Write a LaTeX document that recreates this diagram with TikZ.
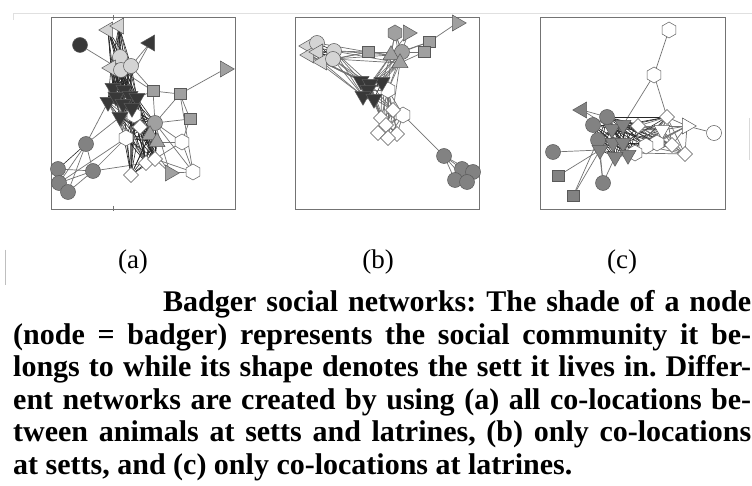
\documentclass[tikz,border=0pt]{standalone}
\usepackage{fontspec}
\setmainfont{Liberation Serif}
\usetikzlibrary{shapes.geometric}
\pgfdeclarelayer{bg}
\pgfdeclarelayer{edges}
\pgfsetlayers{bg,edges,main}
\definecolor{cDark}{HTML}{383838}
\definecolor{cMed}{HTML}{828282}
\definecolor{cGray}{HTML}{A0A0A0}
\definecolor{cLight}{HTML}{D4D4D4}
\tikzset{
  nd/.style={draw=black!65, line width=0.5pt, inner sep=0pt, outer sep=0pt},
  circ/.style={nd, circle, minimum size=15pt},
  sqr/.style={nd, rectangle, minimum size=11.5pt},
  hexa/.style={nd, regular polygon, regular polygon sides=6, shape border rotate=30, minimum size=16pt},
  dia/.style={nd, diamond, minimum size=15pt},
  tri/.style={nd, regular polygon, regular polygon sides=3, minimum size=18.5pt},
  tdn/.style={tri, shape border rotate=180},
  tlf/.style={tri, shape border rotate=90},
  trt/.style={tri, shape border rotate=270},
  tup/.style={tri},
  ed/.style={draw=black!55, line width=0.7pt},
  edd/.style={draw=black!85, line width=0.6pt},
  panel/.style={draw=black!55, line width=0.8pt},
  lbl/.style={inner sep=0pt, font=\fontsize{27}{30}\selectfont},
  capline/.style={inner sep=0pt, anchor=base west, font=\fontsize{30}{33}\selectfont\bfseries\frenchspacing},
}
\newcommand\cliq[2][ed]{\foreach \u [count=\i] in {#2}{\foreach \v [count=\j] in {#2}{\ifnum\i<\j\relax\draw[#1] (\u) -- (\v);\fi}}}
\newcommand\bip[3][ed]{\foreach \u in {#2}{\foreach \v in {#3}{\draw[#1] (\u) -- (\v);}}}
\begin{document}
\begin{tikzpicture}[x=1pt,y=-1pt]
\useasboundingbox (0,0) rectangle (752,486);
\begin{pgfonlayer}{bg}
\fill[white] (0,0) rectangle (752,486);
\draw[black!12, line width=0.6pt] (13,20) -- (13,13) -- (752,13);
\draw[black!25, line width=0.8pt] (5,250) -- (5,285);
\draw[black!15, line width=0.8pt] (749,118) -- (749,160);
\end{pgfonlayer}

% panel frames
\draw[panel] (51,17) rectangle (235,209);
\draw[panel] (295,17) rectangle (479,209);
\draw[panel] (540,17) rectangle (725,209);
\draw[panel] (113,15) -- (113,20);
\draw[panel] (113,206) -- (113,211);

% ---------------- panel (a) ----------------
\node[circ,fill=cDark] (aDc) at (80,45) {};
\node[tlf,fill=cDark] (aDt) at (150,43) {};
\node[tlf,fill=cLight] (aT1) at (108,30) {};
\node[tlf,fill=cLight] (aT2) at (119,26) {};
\node[circ,fill=cLight] (aL1) at (120,57) {};
\node[tlf,fill=cLight] (aT3) at (111,68) {};
\node[circ,fill=cLight] (aL2) at (121,70) {};
\node[circ,fill=cLight] (aL3) at (131,66) {};
\node[trt,fill=cGray] (aR1) at (225,69) {};
\node[sqr,fill=cGray] (aS1) at (153,91) {};
\node[sqr,fill=cGray] (aS2) at (180,94) {};
\node[sqr,fill=cGray] (aS3) at (190,119) {};
\node[hexa,fill=white] (aH1) at (134,115) {};
\node[dia,fill=white] (aW1) at (140,127) {};
\node[circ,fill=cGray] (aG1) at (155,123) {};
\node[hexa,fill=white] (aH2) at (126,138) {};
\node[hexa,fill=white] (aH3) at (182,142) {};
\node[hexa,fill=white] (aH4) at (193,172) {};
\node[dia,fill=white] (aW2) at (146,163) {};
\node[dia,fill=white] (aW3) at (155,159) {};
\node[dia,fill=white] (aW4) at (131,175) {};
\node[tup,fill=cGray] (aU1) at (150,135) {};
\node[tup,fill=cGray] (aU2) at (157,142) {};
\node[trt,fill=cGray] (aR2) at (170,173) {};
\node[tdn,fill=cDark] (aD8) at (113,88) {};
\node[tdn,fill=cDark] (aD3) at (124,90) {};
\node[tdn,fill=cDark] (aD1) at (108,102) {};
\node[tdn,fill=cDark] (aD2) at (116,97) {};
\node[tdn,fill=cDark] (aD4) at (130,96) {};
\node[tdn,fill=cDark] (aD5) at (137,98) {};
\node[tdn,fill=cDark] (aD6) at (123,104) {};
\node[tdn,fill=cDark] (aD9) at (132,108) {};
\node[tdn,fill=cDark] (aD7) at (120,117) {};
\node[circ,fill=cMed] (aM1) at (86,144) {};
\node[circ,fill=cMed] (aM2) at (58,169) {};
\node[circ,fill=cMed] (aM5) at (93,171) {};
\node[circ,fill=cMed] (aM3) at (59,183) {};
\node[circ,fill=cMed] (aM4) at (68,192) {};

\begin{pgfonlayer}{edges}
\draw[ed] (aDc) -- (aL2);
\draw[ed] (aDt) -- (aD3);
\draw[ed] (aDt) -- (aL3);
\draw[ed] (aR1) -- (aS2);
\draw[ed] (aS1) -- (aS2);
\draw[ed] (aS2) -- (aS3);
\draw[ed] (aS2) -- (aG1);
\draw[ed] (aS3) -- (aG1);
\draw[ed] (aS1) -- (aD5);
\draw[ed] (aS1) -- (aL3);
\draw[ed] (aS1) -- (aL2);
\draw[ed] (aS1) -- (aG1);
\draw[ed] (aS3) -- (aH3);
\draw[ed] (aH3) -- (aH4);
\draw[ed] (aG1) -- (aH3);
\draw[ed] (aG1) -- (aH4);
\draw[ed] (aS2) -- (aH4);
\draw[ed] (aM1) -- (aD1);
\draw[edd] (aM1) -- (aM2);
\draw[ed] (aM1) -- (aM3);
\draw[ed] (aM1) -- (aM4);
\draw[ed] (aM1) -- (aM5);
\draw[ed] (aM2) -- (aM5);
\draw[ed] (aM3) -- (aM5);
\draw[ed] (aM2) -- (aM3);
\draw[ed] (aM3) -- (aM4);
\draw[ed] (aM4) -- (aM5);
\draw[edd] (aM2) -- (aM4);
\draw[ed] (aM5) -- (aH2);
\draw[ed] (aM5) -- (aW2);
\draw[ed] (aM3) -- (aH2);
\draw[ed] (aM1) -- (aD7);
\draw[ed] (aT1) -- (aW1);
\draw[ed] (aT2) -- (aH1);
\draw[ed] (aR2) -- (aG1);
\draw[ed] (aR2) -- (aD6);
\draw[ed] (aR2) -- (aW3);
\draw[ed] (aR2) -- (aH4);
\draw[ed] (aH3) -- (aU2);
\draw[ed] (aH3) -- (aW3);
\draw[ed] (aH4) -- (aW3);
\cliq[edd]{aT1,aT2,aT3,aL1,aL2,aL3}
\bip[edd]{aT1,aT2}{aD2,aD3,aD4,aD5,aD8}
\bip[edd]{aL1,aL2,aL3,aT3}{aD1,aD2,aD3,aD4,aD5,aD6,aD8,aD9}
\cliq[edd]{aD1,aD2,aD3,aD4,aD5,aD6,aD7,aD8,aD9}
\bip[edd]{aD4,aD5,aD6,aD7,aD9}{aW1,aU1,aU2,aW2,aW3,aG1,aW4}
\bip[ed]{aD1,aD2}{aH2,aW1,aW2}
\cliq[edd]{aW1,aU1,aU2,aW2,aW3,aW4,aG1,aH1,aH2}
\end{pgfonlayer}

% ---------------- panel (b) ----------------
\node[tlf,fill=cLight] (bT1) at (308,46) {};
\node[tlf,fill=cLight] (bT2) at (309,55) {};
\node[circ,fill=cLight] (bL1) at (317,43) {};
\node[tlf,fill=cLight] (bT4) at (318,52) {};
\node[circ,fill=cLight] (bL2) at (334,51) {};
\node[tlf,fill=cLight] (bT3) at (322,62) {};
\node[circ,fill=cLight] (bL3) at (333,59) {};
\node[sqr,fill=cGray] (bS1) at (368,52) {};
\node[hexa,fill=cGray] (bX) at (395,33) {};
\node[trt,fill=cGray] (bR1) at (408,33) {};
\node[trt,fill=cGray] (bR2) at (457,23) {};
\node[sqr,fill=cGray] (bS2) at (429,42) {};
\node[sqr,fill=cGray] (bS3) at (424,52) {};
\node[circ,fill=cGray] (bG1) at (402,52) {};
\node[tup,fill=cGray] (bU1) at (391,55) {};
\node[tup,fill=cGray] (bU2) at (400,63) {};
\node[hexa,fill=white] (bH1) at (388,90) {};
\node[hexa,fill=white] (bH2) at (403,115) {};
\node[dia,fill=white] (bW1) at (393,110) {};
\node[dia,fill=white] (bW2) at (381,118) {};
\node[dia,fill=white] (bW6) at (386,125) {};
\node[dia,fill=white] (bW3) at (378,133) {};
\node[dia,fill=white] (bW5) at (397,134) {};
\node[dia,fill=white] (bW4) at (388,138) {};
\node[tdn,fill=cDark] (bD1) at (361,81) {};
\node[tdn,fill=cDark] (bD3) at (382,82) {};
\node[tdn,fill=cDark] (bD2) at (370,84) {};
\node[tdn,fill=cDark] (bD6) at (368,90) {};
\node[tdn,fill=cDark] (bD4) at (363,96) {};
\node[tdn,fill=cDark] (bD5) at (374,99) {};
\node[circ,fill=cMed] (bM1) at (444,156) {};
\node[circ,fill=cMed] (bM2) at (462,169) {};
\node[circ,fill=cMed] (bM3) at (473,172) {};
\node[circ,fill=cMed] (bM4) at (455,180) {};
\node[circ,fill=cMed] (bM5) at (467,182) {};

\begin{pgfonlayer}{edges}
\cliq[edd]{bT1,bT2,bT3,bT4,bL1,bL2,bL3}
\bip[ed]{bL1,bL2,bL3,bT3}{bS1}
\draw[ed] (bS1) -- (bU1);
\draw[ed] (bS1) -- (bG1);
\bip[ed]{bL2,bL3,bT3,bT2}{bD1,bD2,bD4}
\bip[ed]{bL2,bL3}{bU1,bU2}
\draw[ed] (bX) -- (bG1);
\draw[ed] (bX) -- (bU1);
\draw[ed] (bR1) -- (bG1);
\draw[ed] (bR1) -- (bU1);
\draw[ed] (bS2) -- (bR2);
\draw[ed] (bS2) -- (bG1);
\draw[ed] (bS2) -- (bU1);
\draw[ed] (bS3) -- (bG1);
\draw[ed] (bS3) -- (bU2);
\cliq[ed]{bG1,bU1,bU2,bX}
\bip[ed]{bU1,bU2,bG1}{bD2,bD3,bD6}
\draw[ed] (bU2) -- (bH1);
\draw[ed] (bU2) -- (bW1);
\draw[ed] (bG1) -- (bH1);
\draw[ed] (bU1) -- (bH1);
\cliq[edd]{bD1,bD2,bD3,bD4,bD5,bD6}
\bip[ed]{bD2,bD3,bD5,bD6}{bH1,bW1,bW2,bW6}
\cliq[ed]{bH1,bW1,bW2,bW3,bW4,bW5,bW6,bH2}
\draw[ed] (bH2) -- (bM1);
\cliq[ed]{bM1,bM2,bM3,bM4,bM5}
\end{pgfonlayer}

% ---------------- panel (c) ----------------
\node[hexa,fill=white] (cH1) at (669,30) {};
\node[hexa,fill=white] (cH2) at (654,75) {};
\node[tlf,fill=cMed] (cTl) at (582,110) {};
\node[circ,fill=cMed] (cC4) at (553,152) {};
\node[sqr,fill=cMed] (cS1) at (558,176) {};
\node[sqr,fill=cMed] (cS2) at (573,196) {};
\node[circ,fill=cMed] (cC5) at (603,183) {};
\node[dia,fill=white] (cW1) at (667,117) {};
\node[dia,fill=white] (cW2) at (638,126) {};
\node[dia,fill=white] (cW3) at (672,145) {};
\node[dia,fill=white] (cW4) at (685,154) {};
\node[trt,fill=white] (cR1) at (687,126) {};
\node[tdn,fill=white] (cU1) at (662,130) {};
\node[hexa,fill=white] (cH5) at (657,143) {};
\node[hexa,fill=white] (cH4) at (646,146) {};
\node[hexa,fill=white] (cH3) at (635,153) {};
\node[circ,fill=white] (cO) at (714,133) {};
\node[circ,fill=cMed] (cC1) at (607,117) {};
\node[circ,fill=cMed] (cC2) at (593,125) {};
\node[circ,fill=cMed] (cC3) at (598,140) {};
\node[tdn,fill=cMed] (cD7) at (612,129) {};
\node[tdn,fill=cMed] (cD1) at (623,125) {};
\node[tdn,fill=cMed] (cD2) at (613,143) {};
\node[tdn,fill=cMed] (cD3) at (623,143) {};
\node[tdn,fill=cMed] (cD5) at (600,150) {};
\node[tdn,fill=cMed] (cD6) at (628,155) {};
\node[tdn,fill=cMed] (cD4) at (615,157) {};

\begin{pgfonlayer}{edges}
\draw[ed] (cH1) -- (cH2);
\draw[ed] (cH2) -- (cD1);
\draw[ed] (cH2) -- (cW1);
\draw[ed] (cTl) -- (cC1);
\draw[ed] (cTl) -- (cD7);
\draw[ed] (cC4) -- (cD5);
\draw[ed] (cS1) -- (cD5);
\draw[ed] (cS2) -- (cD5);
\draw[ed] (cS2) -- (cC3);
\draw[ed] (cC5) -- (cD5);
\draw[ed] (cC5) -- (cD4);
\draw[ed] (cC5) -- (cC3);
\draw[ed] (cO) -- (cR1);
\cliq[edd]{cC1,cC2,cC3,cD1,cD2,cD3,cD4,cD5,cD6,cD7}
\bip[edd]{cD1,cD3,cD6,cD7,cC1}{cW2,cH3,cH4,cH5,cU1,cW1,cW3}
\cliq[ed]{cW1,cW2,cW3,cW4,cH3,cH4,cH5,cR1,cU1}
\end{pgfonlayer}

% ---------------- labels and caption ----------------
\node[lbl] (la) at (133,262) {(a)};
\node[lbl] (lb) at (378,262) {(b)};
\node[lbl] (lc) at (622,262) {(c)};

\node[capline] (c1) at (163,311.5) {\makebox[588pt][s]{Badger social networks: The shade of a node}};
\node[capline] (c2) at (13,344) {\makebox[738pt][s]{(node = badger) represents the social community it be-}};
\node[capline] (c3) at (13,376.5) {\makebox[738pt][s]{longs to while its shape denotes the sett it lives in. Differ-}};
\node[capline] (c4) at (13,409) {\makebox[738pt][s]{ent networks are created by using (a) all co-locations be-}};
\node[capline] (c5) at (13,441.5) {\makebox[738pt][s]{tween animals at setts and latrines, (b) only co-locations}};
\node[capline] (c6) at (13,474) {at setts, and (c) only co-locations at latrines.};
\end{tikzpicture}
\end{document}
